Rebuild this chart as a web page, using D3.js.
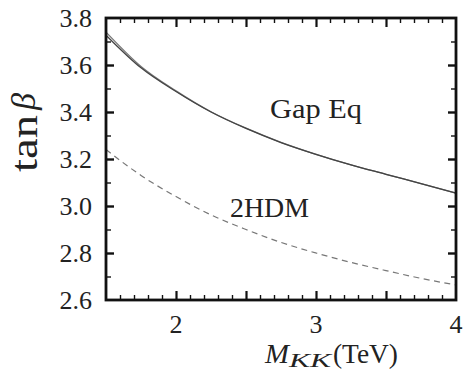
<!DOCTYPE html>
<html>
<head>
<meta charset="utf-8">
<script src="https://cdn.jsdelivr.net/npm/d3@7"></script>
<style>
  html, body { margin: 0; padding: 0; background: #fff; }
  svg { display: block; }
  text { font-family: "Liberation Serif", "DejaVu Serif", serif; fill: #222; }
  .ax path.domain { display: none; }
</style>
</head>
<body>
<svg id="chart" width="465" height="373"></svg>
<script>
// ---- data ----
const mkk = [1.5, 1.75, 2.0, 2.25, 2.5, 2.75, 3.0, 3.25, 3.5, 3.75, 4.0];
const gapEqUpper = [3.740, 3.594, 3.490, 3.401, 3.331, 3.271, 3.220, 3.175, 3.135, 3.095, 3.055];
const gapEqLower = [3.727, 3.588, 3.487, 3.400, 3.330, 3.270, 3.220, 3.175, 3.135, 3.095, 3.055];
const twoHDM = [3.24, 3.13, 3.04, 2.962, 2.90, 2.845, 2.80, 2.76, 2.725, 2.692, 2.664];
const xTickLabels = [2, 3, 4];
const yTickLabels = [2.6, 2.8, 3.0, 3.2, 3.4, 3.6, 3.8];
const seriesLabels = ["Gap Eq", "2HDM"];

// ---- layout ----
const svg = d3.select("#chart");
const L = 106, R = 456, T = 18, B = 300;
const x = d3.scaleLinear().domain([1.5, 4]).range([L, R]);
const y = d3.scaleLinear().domain([2.6, 3.8]).range([B, T]);

const xMinorV = [1.6, 1.7, 1.8, 1.9, 2.1, 2.2, 2.3, 2.4, 2.6, 2.7, 2.8, 2.9, 3.1, 3.2, 3.3, 3.4, 3.6, 3.7, 3.8, 3.9];
const xMajorV = [2.0, 2.5, 3.0, 3.5];
const yMinorV = [2.7, 2.9, 3.1, 3.3, 3.5, 3.7];
const yMajorV = [2.8, 3.0, 3.2, 3.4, 3.6];

function addAxis(gen, tx, ty, vals, size, w) {
  const g = svg.append("g").attr("class", "ax")
    .attr("transform", `translate(${tx},${ty})`)
    .call(gen.tickValues(vals).tickSizeInner(size).tickSizeOuter(0).tickFormat(""));
  g.selectAll(".tick line").attr("stroke", "#111").attr("stroke-width", w);
  g.selectAll(".tick text").remove();
}
addAxis(d3.axisBottom(x), 0, B, xMinorV, -5, 1.4);
addAxis(d3.axisBottom(x), 0, B, xMajorV, -9, 2.2);
addAxis(d3.axisTop(x), 0, T, xMinorV, -5, 1.4);
addAxis(d3.axisTop(x), 0, T, xMajorV, -9, 2.2);
addAxis(d3.axisLeft(y), L, 0, yMinorV, -5, 1.4);
addAxis(d3.axisLeft(y), L, 0, yMajorV, -8, 2.4);
addAxis(d3.axisRight(y), R, 0, yMinorV, -5, 1.4);
addAxis(d3.axisRight(y), R, 0, yMajorV, -8, 2.4);

// tick labels
xTickLabels.forEach(d => {
  svg.append("text").attr("x", x(d)).attr("y", 333)
    .attr("text-anchor", "middle").attr("font-size", 26).text(d);
});
yTickLabels.forEach(d => {
  svg.append("text").attr("x", 92).attr("y", y(d) + 9)
    .attr("text-anchor", "end").attr("font-size", 26).text(d.toFixed(1));
});

// curves
const line = d3.line().curve(d3.curveMonotoneX);
const ptsOf = arr => mkk.map((m, i) => [x(m), y(arr[i])]);
svg.append("path").attr("d", line(ptsOf(gapEqUpper))).attr("fill", "none")
  .attr("stroke", "#777").attr("stroke-width", 1.3);
svg.append("path").attr("d", line(ptsOf(gapEqLower))).attr("fill", "none")
  .attr("stroke", "#444").attr("stroke-width", 1.3);
svg.append("path").attr("d", line(ptsOf(twoHDM))).attr("fill", "none")
  .attr("stroke", "#777").attr("stroke-width", 1.2).attr("stroke-dasharray", "6,4.5");

// frame
svg.append("rect").attr("x", L).attr("y", T).attr("width", R - L).attr("height", B - T)
  .attr("fill", "none").attr("stroke", "#111").attr("stroke-width", 2.8);

// series labels
svg.append("text").attr("x", 270).attr("y", 118).attr("font-size", 27)
  .attr("textLength", 92).attr("lengthAdjust", "spacingAndGlyphs").text(seriesLabels[0]);
svg.append("text").attr("x", 230).attr("y", 217).attr("font-size", 27)
  .attr("textLength", 79).attr("lengthAdjust", "spacingAndGlyphs").text(seriesLabels[1]);

// x axis label
svg.append("text").attr("x", 265).attr("y", 363).attr("font-size", 27)
  .attr("font-style", "italic").attr("textLength", 24).attr("lengthAdjust", "spacingAndGlyphs").text("M");
svg.append("text").attr("x", 289).attr("y", 367).attr("font-size", 19)
  .attr("font-style", "italic").attr("textLength", 42).attr("lengthAdjust", "spacingAndGlyphs").text("KK");
svg.append("text").attr("x", 333).attr("y", 363).attr("font-size", 27)
  .attr("textLength", 65).attr("lengthAdjust", "spacingAndGlyphs").text("(TeV)");

// y axis label
svg.append("text").attr("transform", "translate(37,172) rotate(-90)")
  .attr("font-size", 38).attr("textLength", 57).attr("lengthAdjust", "spacingAndGlyphs").text("tan");
svg.append("text").attr("transform", "translate(35,110) rotate(-90)")
  .attr("font-size", 34).attr("font-style", "italic").text("β");
</script>
</body>
</html>
